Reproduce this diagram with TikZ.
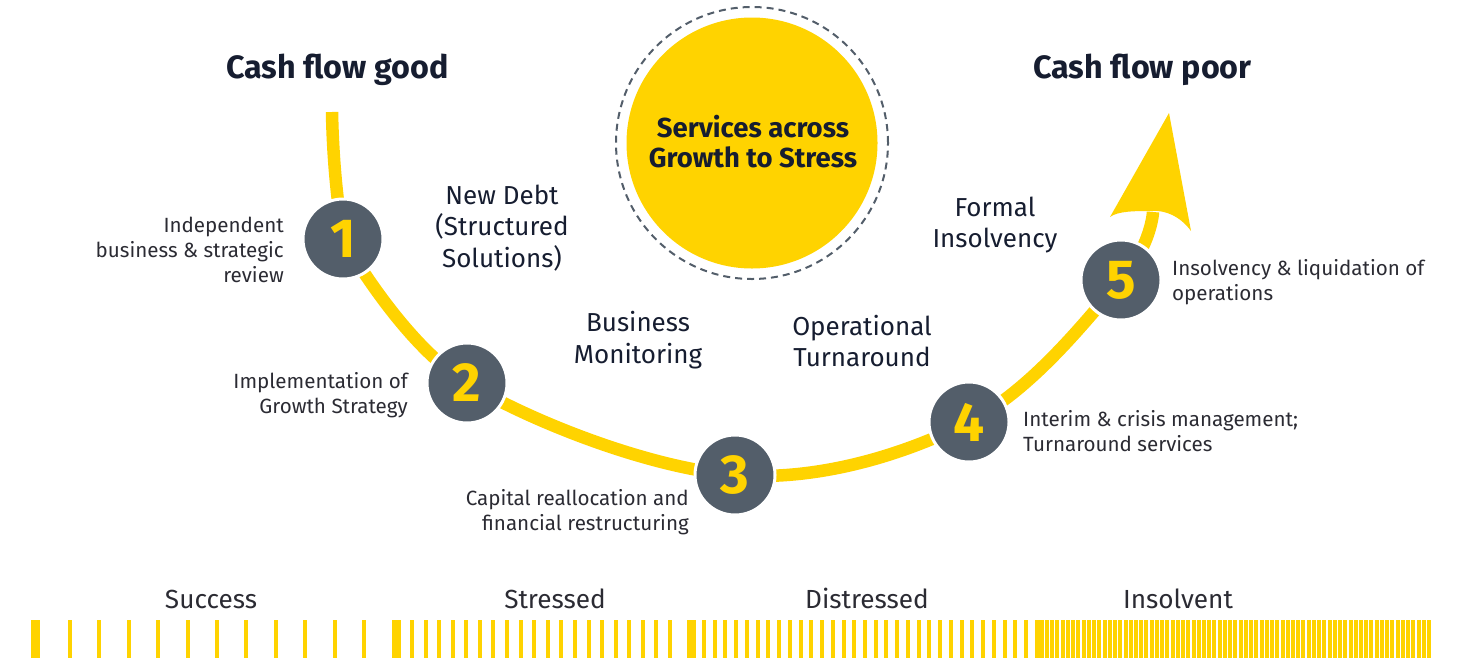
\documentclass[tikz,border=0pt]{standalone}
\usepackage{fontspec}
\setmainfont{Fira Sans}
\definecolor{eyyellow}{HTML}{FFD300}
\definecolor{slate}{HTML}{535E6A}
\definecolor{navy}{HTML}{161D30}
\definecolor{labelgray}{HTML}{2B2B33}
\begin{document}
\begin{tikzpicture}[x=1pt,y=-1pt,
  numc/.style={circle, fill=slate, draw=white, line width=3pt, minimum size=80pt, inner sep=0pt, text=eyyellow, font=\fontsize{55}{55}\selectfont\bfseries},
  small/.style={inner sep=0pt, text=labelgray, font=\fontsize{20.6}{25}\selectfont},
  big/.style={inner sep=0pt, text=navy, font=\fontsize{26}{31.5}\selectfont, align=center, anchor=north},
  head/.style={inner sep=0pt, text=navy, font=\fontsize{32.3}{38}\selectfont\bfseries, anchor=base},
  sect/.style={inner sep=0pt, text=labelgray, font=\fontsize{26.2}{30}\selectfont, anchor=base},
  bar/.style={fill=eyyellow},
  curve/.style={draw=eyyellow, line width=12.5pt},
  dashring/.style={draw=slate, dash pattern=on 7pt off 5pt, line width=2pt}
]
\useasboundingbox (0,0) rectangle (1471,670);

% centre circle
\node[circle, fill=eyyellow, minimum size=251pt, inner sep=0pt] (sun) at (752,143) {};
\draw[dashring] (sun.center) circle[radius=136pt];
\node[inner sep=0pt, text=navy, font=\fontsize{27.5}{30.7}\selectfont\bfseries, align=center, anchor=north] (suntext) at (753,114.5) {\strut Services across\\\strut Growth to Stress};

% headings
\node[head] (good) at (337.5,78) {Cash flow good};
\node[head] (poor) at (1142.5,78) {Cash flow poor};

% path coordinates
\coordinate (p0) at (332,112);
\coordinate (p1) at (343,239);
\coordinate (p2) at (467,383);
\coordinate (p3) at (735,475);
\coordinate (p4) at (969,422);
\coordinate (p5) at (1121,280);
\coordinate (p6) at (1153,212);

\draw[curve] (p0) .. controls (333,165) and (338,205) .. (p1);
\draw[curve] plot[smooth, tension=0.6] coordinates {(p1) (p2) (p3) (p4) (p5) (p6)};
\fill[eyyellow] (1169,113) -- (1191,231) .. controls (1180,216) and (1165,210) .. (1152,211) .. controls (1135,211) and (1118,211) .. (1110,217) -- cycle;

\node[numc] (c1) at (p1) {1};
\node[numc] (c2) at (p2) {2};
\node[numc] (c3) at (p3) {3};
\node[numc] (c4) at (p4) {4};
\node[numc] (c5) at (p5) {5};

% big labels
\node[big] (debt) at (502,182) {\strut New Debt\\\strut(Structured\\\strut Solutions)};
\node[big] (monit) at (638,309.7) {\strut Business\\\strut Monitoring};
\node[big] (oper) at (862,313) {\strut Operational\\\strut Turnaround};
\node[big] (formal) at (995,194) {\strut Formal\\\strut Insolvency};

% small labels
\node[small, align=right, anchor=north east] (l1) at (284,214.5) {\strut Independent\\\strut business \& strategic\\\strut review};
\node[small, align=right, anchor=north east] (l2) at (408,370.5) {\strut Implementation of\\\strut Growth Strategy};
\node[small, align=right, anchor=north east] (l3) at (689,487.5) {\strut Capital reallocation and\\\strut financial restructuring};
\node[small, align=left, anchor=north west] (l4) at (1023,409) {\strut Interim \& crisis management;\\\strut Turnaround services};
\node[small, align=left, anchor=north west] (l5) at (1172,257.5) {\strut Insolvency \& liquidation of\\\strut operations};

% stage labels
\node[sect] (s1) at (211,608) {Success};
\node[sect] (s2) at (555,608) {Stressed};
\node[sect] (s3) at (867,608) {Distressed};
\node[sect] (s4) at (1178,608) {Insolvent};

% bars
\fill[bar] (31,620) rectangle +(9,38);
\foreach \i in {0,...,10} \fill[bar] ({68+29.4*\i},620) rectangle +(4,38);
\fill[bar] (392,620) rectangle +(9,38);
\foreach \i in {0,...,19} \fill[bar] ({410+13.58*\i},620) rectangle +(4,38);
\fill[bar] (687,620) rectangle +(9,38);
\foreach \i in {0,...,30} \fill[bar] ({702+10.733*\i},620) rectangle +(4,38);
\fill[bar] (1035,620) rectangle +(9,38);
\foreach \i in {0,...,73} \fill[bar] ({1045+5.233*\i},620) rectangle +(4,38);
\end{tikzpicture}
\end{document}
